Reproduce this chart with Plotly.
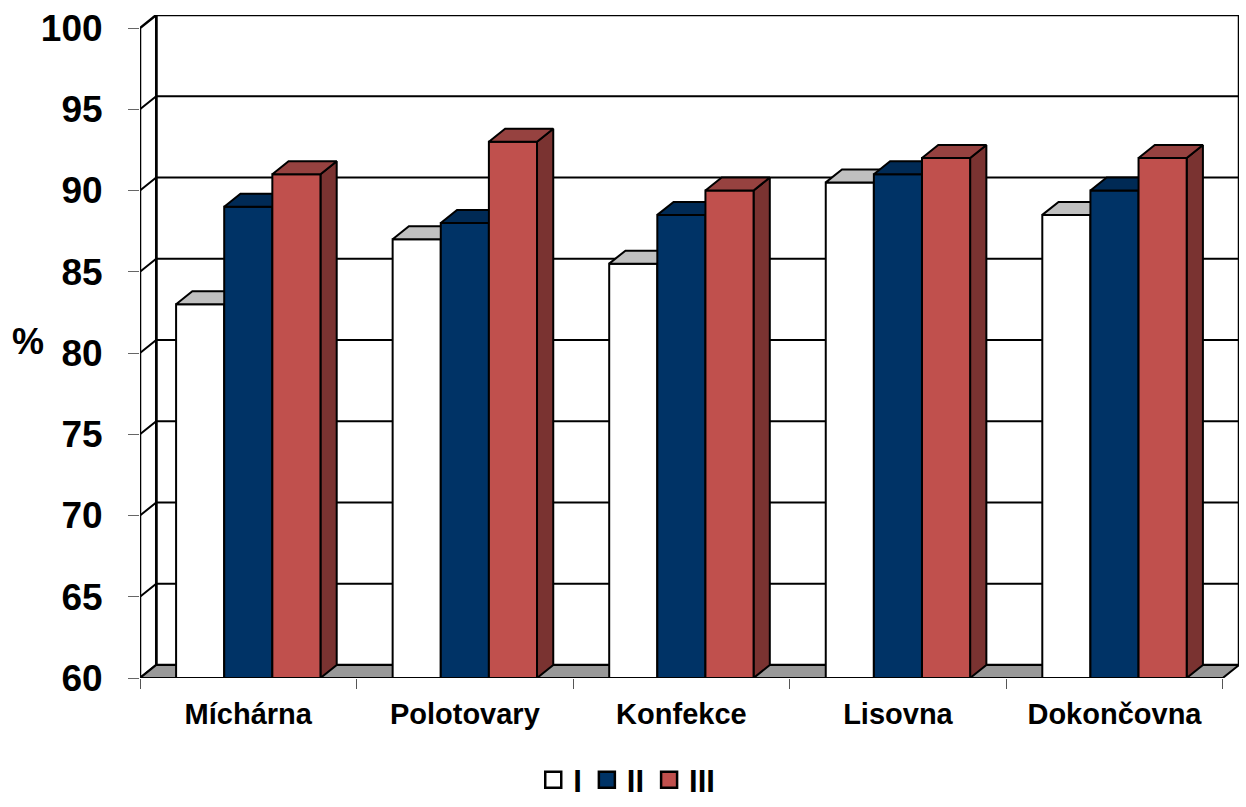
import plotly.graph_objects as go

# --- data -------------------------------------------------------------
categories = ["Míchárna", "Polotovary", "Konfekce", "Lisovna", "Dokončovna"]
series_names = ["I", "II", "III"]
values_I = [83.0, 87.0, 85.5, 90.5, 88.5]
values_II = [89.0, 88.0, 88.5, 91.0, 90.0]
values_III = [91.0, 93.0, 90.0, 92.0, 92.0]
y_ticks = [60, 65, 70, 75, 80, 85, 90, 95, 100]
axis_symbol = "%"

# --- styling ----------------------------------------------------------
FONT = "Liberation Sans"
# front / top / side face colours for each series
face_colors = [
    ("#FFFFFF", "#C0C0C0", "#808080"),
    ("#003366", "#002A55", "#00224A"),
    ("#C0504D", "#964240", "#7A3331"),
]
FLOOR = "#999999"

series_values = [values_I, values_II, values_III]
N = len(categories)
BASE, TOP = y_ticks[0], y_ticks[-1]
DX = 0.075          # depth offset along x (category units)
DY = 0.8            # depth offset along y (value units)
BAR_W = 2 / 9       # bar width in category units
GROUP_PAD = 1 / 6   # space before the first bar of each group


def poly(xs, ys, fill, width=2.0):
    return go.Scatter(
        x=xs + [xs[0]], y=ys + [ys[0]], mode="lines", fill="toself",
        fillcolor=fill, line=dict(color="black", width=width),
        showlegend=False, hoverinfo="skip", cliponaxis=False,
    )


traces = []

# back wall and left side wall
traces.append(poly([DX, N + DX, N + DX, DX],
                   [BASE + DY, BASE + DY, TOP + DY, TOP + DY], "white", 2.5))
traces.append(poly([0, DX, DX, 0],
                   [BASE, BASE + DY, TOP + DY, TOP], "white", 2.5))

# gridlines on the walls
gx, gy = [], []
for v in y_ticks[1:-1]:
    gx += [0, DX, N + DX, None]
    gy += [v, v + DY, v + DY, None]
traces.append(go.Scatter(x=gx, y=gy, mode="lines",
                         line=dict(color="black", width=2),
                         showlegend=False, hoverinfo="skip", cliponaxis=False))

# floor
traces.append(poly([0, N, N + DX, DX],
                   [BASE, BASE, BASE + DY, BASE + DY], FLOOR, 2))

# bars, painted left to right so nearer faces cover hidden ones
for g in range(N):
    for s, vals in enumerate(series_values):
        v = vals[g]
        front, top, side = face_colors[s]
        x0 = g + GROUP_PAD + s * BAR_W
        x1 = x0 + BAR_W
        traces.append(poly([x1, x1 + DX, x1 + DX, x1],
                           [BASE, BASE + DY, v + DY, v], side))
        traces.append(poly([x0, x1, x1, x0], [BASE, BASE, v, v], front))
        traces.append(poly([x0, x1, x1 + DX, x0 + DX],
                           [v, v, v + DY, v + DY], top))

# legend entries
for s, name in enumerate(series_names):
    traces.append(go.Scatter(
        x=[None], y=[None], mode="markers", name=name,
        marker=dict(symbol="square", size=16, color=face_colors[s][0],
                    line=dict(color="black", width=2.5)),
    ))

fig = go.Figure(traces)

fig.update_layout(
    template="none",
    width=1246, height=807,
    margin=dict(l=140, r=7, t=15, b=129, autoexpand=False),
    paper_bgcolor="white", plot_bgcolor="white",
    font=dict(family=FONT, color="black"),
    showlegend=True,
    legend=dict(
        orientation="h", xref="container", yref="container",
        x=0.503, xanchor="center", y=-0.01, yanchor="bottom",
        font=dict(family=FONT, size=31, weight="bold", color="black"),
        bgcolor="rgba(0,0,0,0)", itemwidth=30,
        itemclick=False, itemdoubleclick=False, traceorder="normal",
    ),
    xaxis=dict(
        range=[0, N + DX], showgrid=False, zeroline=False, showline=False,
        automargin=False,
        tickmode="array", tickvals=[g + 0.5 for g in range(N)],
        ticktext=categories, ticks="", ticklabelstandoff=16,
        tickfont=dict(family=FONT, size=29, weight="bold", color="black"),
        minor=dict(tickmode="array", tickvals=list(range(N + 1)),
                   ticks="outside", ticklen=10, tickwidth=1, tickcolor="#555555",
                   showgrid=False),
        fixedrange=True,
    ),
    yaxis=dict(
        range=[BASE, TOP + DY], showgrid=False, zeroline=False, showline=False,
        automargin=False,
        tickmode="array", tickvals=y_ticks, ticks="outside", ticklen=11,
        tickwidth=1, tickcolor="#666666", ticklabelstandoff=18,
        tickfont=dict(family=FONT, size=37, weight="bold", color="black"),
        fixedrange=True,
    ),
    annotations=[dict(
        text=axis_symbol, xref="paper", x=0, xshift=-112, xanchor="center",
        yref="y", y=80.7, yanchor="middle", showarrow=False,
        font=dict(family=FONT, size=36, weight="bold", color="black"),
    )],
)

fig.write_html("out.html")
